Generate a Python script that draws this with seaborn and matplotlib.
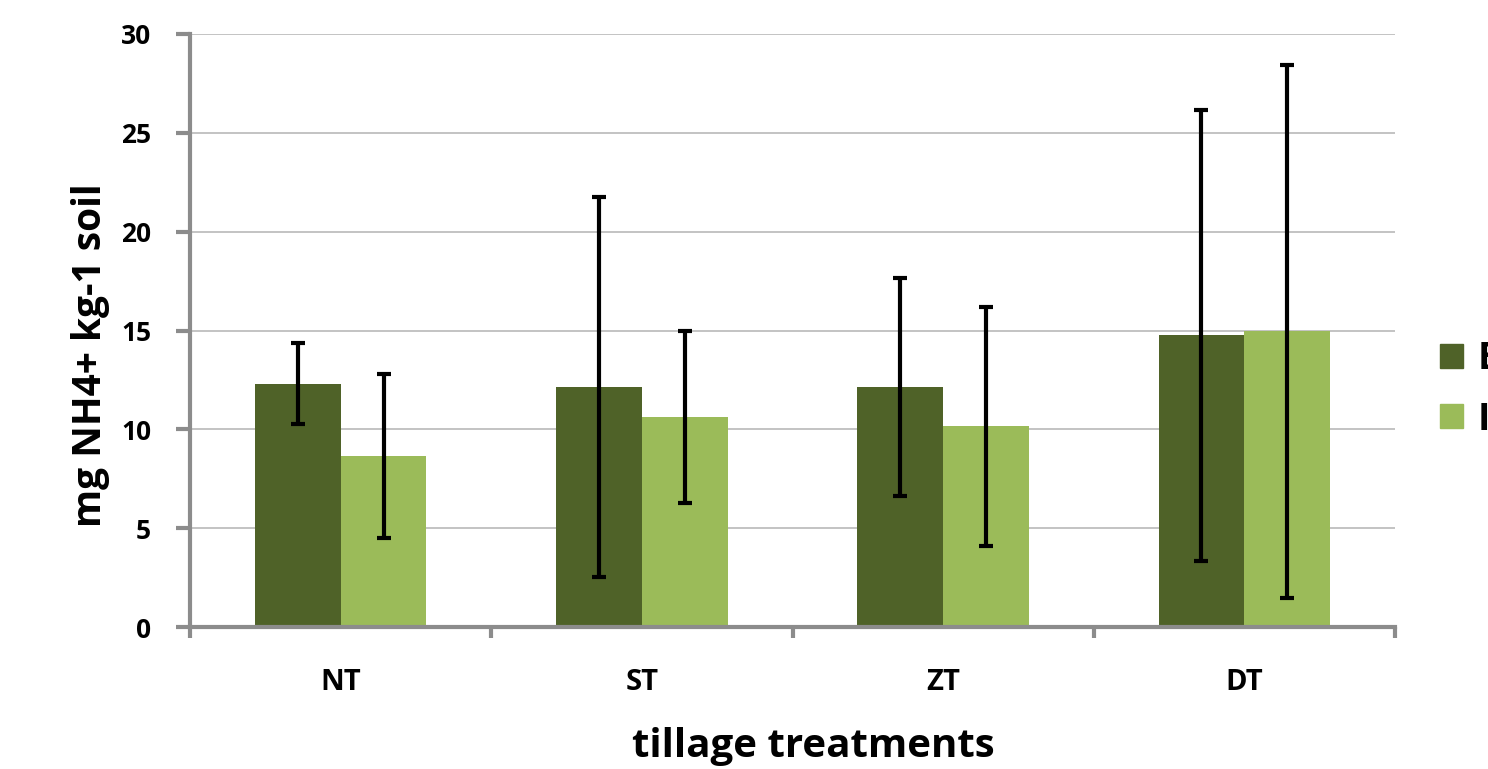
import pandas as pd
import matplotlib
matplotlib.use("Agg")
import matplotlib.pyplot as plt
import seaborn as sns

# values
TREATMENTS = ["NT", "ST", "ZT", "DT"]
SERIES = ["E", "I"]
E_MEAN = [12.3, 12.15, 12.15, 14.75]
E_ERR = [2.05, 9.6, 5.5, 11.4]
I_MEAN = [8.65, 10.6, 10.15, 14.95]
I_ERR = [4.15, 4.35, 6.05, 13.5]

COLORS = {"E": "#4F6228", "I": "#9BBB59"}
GRAY = "#8C8C8C"

df = pd.DataFrame({
    "treatment": TREATMENTS * 2,
    "series": ["E"] * 4 + ["I"] * 4,
    "value": E_MEAN + I_MEAN,
})
errs = {"E": E_ERR, "I": I_ERR}

sns.set_style("white")
plt.rcParams["font.family"] = ["Open Sans", "DejaVu Sans"]
plt.rcParams["font.weight"] = "bold"
plt.rcParams["text.color"] = "black"
plt.rcParams["xtick.labelcolor"] = "black"
plt.rcParams["ytick.labelcolor"] = "black"
plt.rcParams["axes.labelcolor"] = "black"

fig = plt.figure(figsize=(14.88, 7.69), dpi=100)
ax = fig.add_axes([190 / 1488, 1 - 627 / 769, (1395 - 190) / 1488, (627 - 34) / 769])

sns.barplot(data=df, x="treatment", y="value", hue="series", order=TREATMENTS,
            hue_order=SERIES, palette=COLORS, width=0.57, errorbar=None,
            saturation=1, linewidth=0, ax=ax, zorder=2)

# error bars at bar centres
for cont, name in zip(ax.containers, SERIES):
    for bar, e in zip(cont, errs[name]):
        ax.errorbar(bar.get_x() + bar.get_width() / 2, bar.get_height(), yerr=e,
                    fmt="none", ecolor="black", elinewidth=3, capsize=5,
                    capthick=3, zorder=3)

ax.set_ylim(0, 30)
ax.set_xlim(-0.5, 3.5)
ax.set_yticks(range(0, 31, 5))
ax.yaxis.grid(True, color="#BEBEBE", linewidth=1.3, zorder=0)
ax.set_axisbelow(True)

for s in ["top", "right"]:
    ax.spines[s].set_visible(False)
for s in ["left", "bottom"]:
    ax.spines[s].set_color(GRAY)
    ax.spines[s].set_linewidth(3)

ax.tick_params(axis="y", which="major", left=True, direction="out", length=10,
               width=3, color=GRAY, labelsize=19, pad=18)
ax.tick_params(axis="x", which="major", bottom=False, labelsize=21, pad=26)
ax.set_xticks([-0.5, 0.5, 1.5, 2.5, 3.5], minor=True)
ax.tick_params(axis="x", which="minor", bottom=True, direction="out", length=8,
               width=3, color=GRAY)

ax.set_xlabel("tillage treatments", fontsize=29, fontweight="bold")
ax.set_ylabel("mg NH4+ kg-1 soil", fontsize=28, fontweight="bold")
ax.xaxis.set_label_coords(0.517, -0.168)
ax.yaxis.set_label_coords(-0.066, 0.459)

ax.legend_.remove()
handles = [plt.Rectangle((0, 0), 1, 1, color=COLORS[s]) for s in SERIES]
fig.legend(handles, SERIES, loc="upper left", bbox_to_anchor=(1440 / 1488, 1 - 340 / 769),
           frameon=False, fontsize=27, handlelength=0.62, handleheight=0.62,
           handletextpad=0.38, labelspacing=0.6, borderpad=0, borderaxespad=0)

fig.savefig("out.png", dpi=100)
